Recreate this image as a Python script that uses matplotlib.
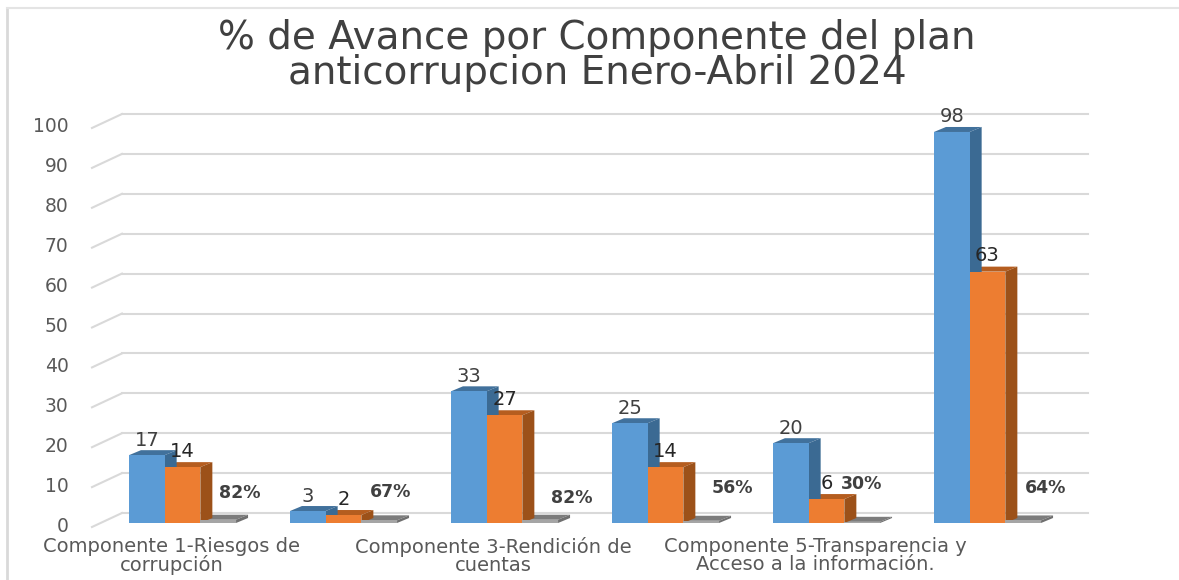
import matplotlib
matplotlib.use('Agg')
import matplotlib.pyplot as plt
from matplotlib.patches import Polygon
from matplotlib.transforms import ScaledTranslation

title = '% de Avance por Componente del plan\nanticorrupcion Enero-Abril 2024'
avance1 = [17, 3, 33, 25, 20, 98]
avance2 = [14, 2, 27, 14, 6, 63]
porcentaje = [0.82, 0.67, 0.82, 0.56, 0.30, 0.64]
yticks = [0, 10, 20, 30, 40, 50, 60, 70, 80, 90, 100]
shown_groups = [0, 2, 4]
shown_labels = ['Componente 1-Riesgos de\ncorrupción',
                'Componente 3-Rendición de\ncuentas',
                'Componente 5-Transparencia y\nAcceso a la información.']
# where the % labels sit, relative to the grey bar (pixels)
pct_dx = [22, 11, 32, 31, -1, 22]
pct_dy = [27, 28, 22, 33, 38, 32]

W, H = 1179, 580
PX_X = 161.0           # pixels per group
PX_Y = 3.99            # pixels per unit
bar_w = 35.7 / PX_X
dx = 12 / PX_X         # bar depth
dy = 5 / PX_Y
wall_dx = 20 / PX_X    # depth of the back wall
wall_dy = 10 / PX_Y
ax_left = 102
ax_bottom = 523

fig = plt.figure(figsize=(W / 100, H / 100), dpi=100)
ax = fig.add_axes([ax_left / W, (H - ax_bottom) / H, 6 * PX_X / W, 100 * PX_Y / H])
ax.set_xlim(-0.5, 5.5)
ax.set_ylim(0, 100)
for s in ax.spines.values():
    s.set_visible(False)
ax.patch.set_visible(False)

# frame of the pasted picture
fig.add_artist(plt.Line2D([7 / W, 7 / W], [0, 1 - 8 / H], color='#d9d9d9', lw=2))
fig.add_artist(plt.Line2D([7 / W, 1], [1 - 8 / H, 1 - 8 / H], color='#e4e4e4', lw=1.5))

# back wall grid and the slanted floor ticks
for v in yticks:
    y = v + wall_dy
    ax.plot([-0.5 + wall_dx, 5.5 + wall_dx], [y, y], color='#d9d9d9', lw=1.5, clip_on=False, zorder=1)
    ax.plot([-0.5 - 10 / PX_X, -0.5 + wall_dx], [v - 4 / PX_Y, y], color='#d9d9d9', lw=1.5, clip_on=False, zorder=1)


def bars3d(xs, vals, front, top, side):
    ax.bar(xs, vals, bar_w, color=front, zorder=3, clip_on=False)
    for x, v in zip(xs, vals):
        l, r = x - bar_w / 2, x + bar_w / 2
        ax.add_patch(Polygon([(l, v), (r, v), (r + dx, v + dy), (l + dx, v + dy)],
                             color=top, lw=0, zorder=2.5, clip_on=False))
        ax.add_patch(Polygon([(r, 0), (r, v), (r + dx, v + dy), (r + dx, dy)],
                             color=side, lw=0, zorder=2.5, clip_on=False))


groups = range(len(avance1))
x1 = [g - bar_w for g in groups]
x2 = list(groups)
x3 = [g + bar_w for g in groups]

# back to front, right to left so the sides overlap like the reference
bars3d(x3, porcentaje, '#a5a5a5', '#7c7c7c', '#6f6f6f')
bars3d(x2, avance2, '#ed7d31', '#b55d1f', '#9c5119')
bars3d(x1, avance1, '#5b9bd5', '#41719c', '#3b6a93')

for x, v in zip(x1, avance1):
    ax.annotate(str(v), (x, v), xytext=(0, 15), textcoords='offset pixels', ha='center', va='center',
                fontsize=14, color='#404040', zorder=5, annotation_clip=False)
for x, v in zip(x2, avance2):
    ax.annotate(str(v), (x, v), xytext=(0, 16), textcoords='offset pixels', ha='center', va='center',
                fontsize=14, color='#262626', zorder=5, annotation_clip=False)
for x, v, ox, oy in zip(x3, porcentaje, pct_dx, pct_dy):
    ax.annotate(f'{v:.0%}', (x, v), xytext=(ox, oy), textcoords='offset pixels', ha='center', va='center',
                fontsize=12.5, fontweight='bold', color='#404040', zorder=5, annotation_clip=False)

ax.set_yticks(yticks)
ax.set_xticks([g - 11 / PX_X for g in shown_groups])
ax.set_xticklabels(shown_labels, linespacing=0.95)
ax.tick_params(axis='y', length=0, pad=24, labelsize=13.5, labelcolor='#595959')
ax.tick_params(axis='x', length=0, pad=10, labelsize=14, labelcolor='#595959')
shift = ScaledTranslation(0, -1 / 100, fig.dpi_scale_trans)
for lab in ax.get_yticklabels():
    lab.set_transform(lab.get_transform() + shift)

fig.text(597 / W, 1 - 55.5 / H, title, ha='center', va='center', fontsize=28, color='#404040', linespacing=0.87)

fig.savefig('out.png', dpi=100)
